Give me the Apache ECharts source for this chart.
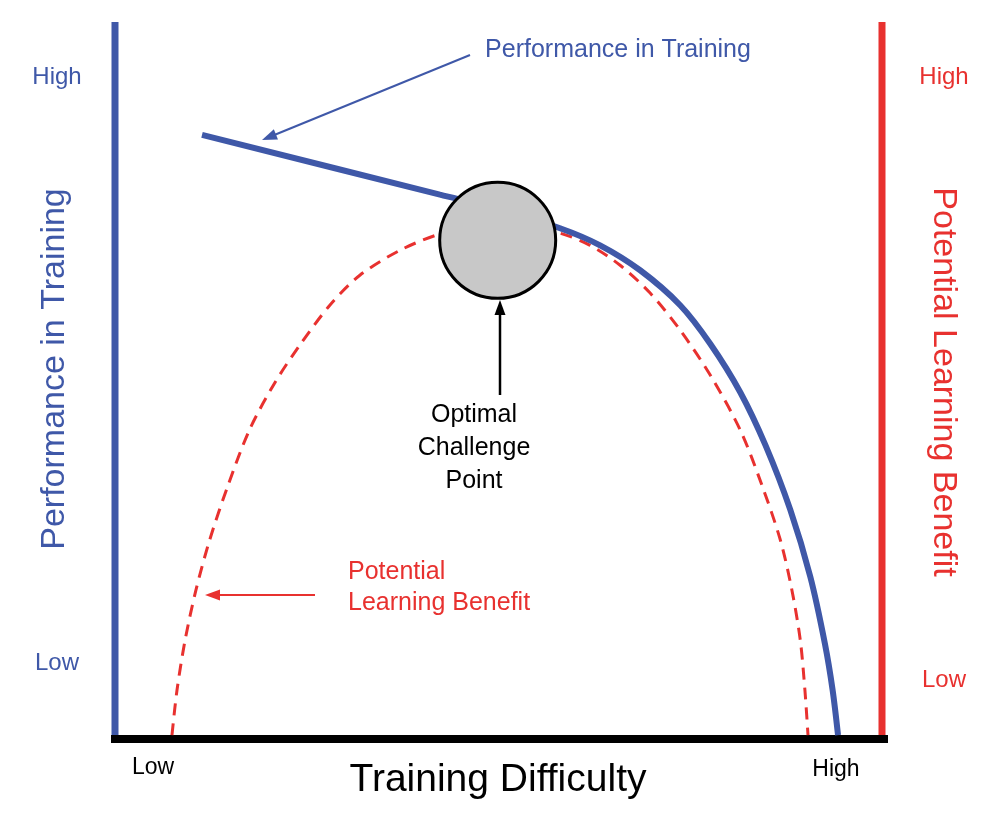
<!DOCTYPE html>
<html>
<head>
<meta charset="utf-8">
<script src="https://cdn.jsdelivr.net/npm/echarts@6/dist/echarts.min.js"></script>
<style>html,body{margin:0;background:#fff}#main{width:1000px;height:840px}</style>
</head>
<body>
<div id="main"></div>
<script>
// difficulty (0-100) vs level (0-100)
var performance = [[11.3,84.6],[42.2,76.2],[50,74.1],[57.8,71.5],[63.0,69.1],[68.2,65.6],[73.4,60.7],[77.3,55.3],[81.2,48.5],[84.5,41.0],[87.7,32.0],[90.3,22.6],[92.2,13.2],[93.2,6.7],[93.9,0.4]]
var learning = [[7.4,0.4],[8.05,6.7],[9.1,13.7],[10.5,20.7],[12.3,27.8],[14.7,35.5],[17.5,43.3],[20.8,49.9],[24.0,55.1],[27.9,60.7],[31.8,64.9],[37.0,68.4],[42.2,70.7],[46.1,71.5],[50,71.8],[53.9,71.5],[57.8,70.8],[61.7,69.1],[65.6,66.3],[69.5,62.4],[73.4,57.2],[77.3,50.9],[81.2,43.2],[84.0,35.5],[86.4,27.8],[87.9,20.8],[89.0,13.7],[89.6,6.7],[90.0,0.4]]
var optimal = [[49.7,69.8]]

var blue = '#3f58a8', red = '#e8312f'
var font = 'Arial, "Liberation Sans", sans-serif'

function arrow (x1, y1, x2, y2, color, w) {
  var a = Math.atan2(y2 - y1, x2 - x1), L = 16, s = 0.35
  return [
    {type: 'line', shape: {x1: x1, y1: y1, x2: x2 - Math.cos(a) * 8, y2: y2 - Math.sin(a) * 8}, style: {stroke: color, lineWidth: w}},
    {type: 'polygon', shape: {points: [[x2, y2], [x2 - L * Math.cos(a - s), y2 - L * Math.sin(a - s)], [x2 - L * Math.cos(a + s), y2 - L * Math.sin(a + s)]]}, style: {fill: color}}
  ]
}
function txt (x, y, t, color, size, extra) {
  return Object.assign({type: 'text', x: x, y: y, style: {text: t, fill: color, font: size + 'px ' + font, textAlign: 'center', textVerticalAlign: 'middle', lineHeight: Math.round(size * 1.3)}}, extra || {})
}

var graphics = [
  {type: 'line', shape: {x1: 115, y1: 22, x2: 115, y2: 738}, style: {stroke: blue, lineWidth: 7}},
  {type: 'line', shape: {x1: 882, y1: 22, x2: 882, y2: 738}, style: {stroke: red, lineWidth: 7}},
  {type: 'line', shape: {x1: 111, y1: 739, x2: 888, y2: 739}, style: {stroke: '#000', lineWidth: 8}},
  txt(57, 77, 'High', blue, 24), txt(57, 663, 'Low', blue, 24),
  txt(944, 77, 'High', red, 24), txt(944, 680, 'Low', red, 24),
  txt(153, 768, 'Low', '#000', 23), txt(836, 770, 'High', '#000', 23),
  txt(498, 780, 'Training Difficulty', '#000', 39),
  txt(55, 369, 'Performance in Training', blue, 34, {rotation: Math.PI / 2}),
  txt(943, 382, 'Potential Learning Benefit', red, 34, {rotation: -Math.PI / 2}),
  txt(618, 50, 'Performance in Training', blue, 25),
  txt(474, 448, 'Optimal\nChallenge\nPoint', '#000', 25),
  {type: 'text', x: 348, y: 588, style: {text: 'Potential\nLearning Benefit', fill: red, font: '25px ' + font, textAlign: 'left', textVerticalAlign: 'middle', lineHeight: 31}}
]
graphics = graphics.concat(arrow(470, 55, 262, 140, blue, 2), arrow(500, 395, 500, 300, '#000', 2.5), arrow(315, 595, 205, 595, red, 2))

var chart = echarts.init(document.getElementById('main'))
chart.setOption({
  animation: false,
  grid: {left: 115, right: 115, top: 25, bottom: 102},
  xAxis: {type: 'value', min: 0, max: 100, show: false},
  yAxis: {type: 'value', min: 0, max: 100, show: false},
  graphic: graphics,
  series: [
    {type: 'line', data: learning, smooth: 0.3, symbol: 'none', lineStyle: {color: red, width: 3, type: [12, 8]}},
    {type: 'line', data: performance, smooth: 0.3, symbol: 'none', lineStyle: {color: blue, width: 6}},
    {type: 'scatter', data: optimal, symbolSize: 116, itemStyle: {color: '#c8c8c8', borderColor: '#000', borderWidth: 3, opacity: 1}, z: 5}
  ]
})
</script>
</body>
</html>
